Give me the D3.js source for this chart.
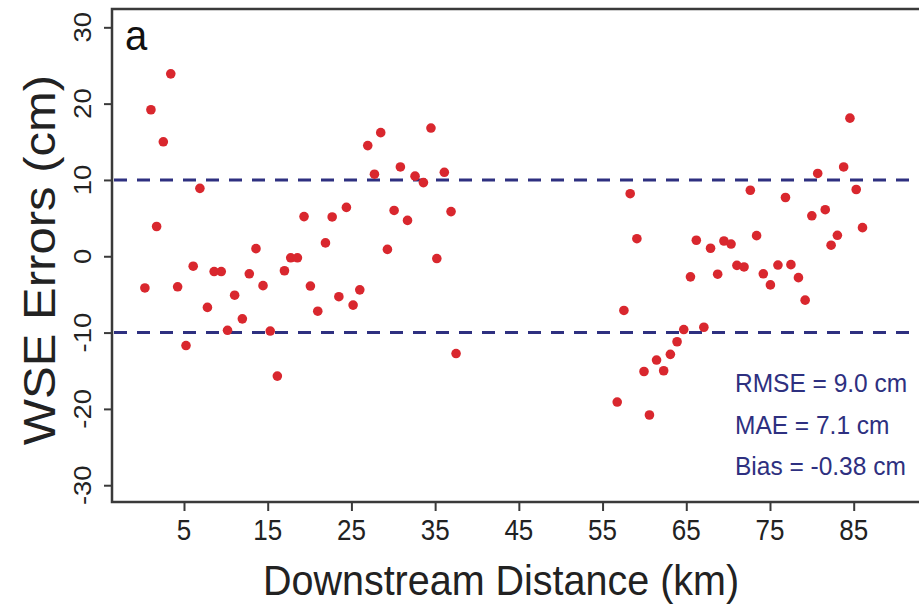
<!DOCTYPE html>
<html>
<head>
<meta charset="utf-8">
<script src="https://cdn.jsdelivr.net/npm/d3@7"></script>
<style>
  html, body { margin: 0; padding: 0; background: #ffffff; }
  svg { display: block; font-family: "Liberation Sans", Arial, sans-serif; }
</style>
</head>
<body>
<svg id="chart" width="919" height="607"></svg>
<script>
// ---- data ----
const distanceKm = [
  0.33, 1.05, 1.73, 2.53, 3.42, 4.24, 5.24, 6.1, 6.9, 7.8,
  8.6, 9.45, 10.2, 11.05, 11.97, 12.8, 13.6, 14.44, 15.3, 16.15,
  17.0, 17.75, 18.55, 19.34, 20.1, 20.98, 21.9, 22.7, 23.5, 24.4,
  25.2, 26.0, 26.95, 27.75, 28.5, 29.3, 30.1, 30.85, 31.7, 32.6,
  33.6, 34.5, 35.2, 36.1, 36.9, 37.5,
  56.75, 57.55, 58.3, 59.1, 59.95, 60.6, 61.45, 62.3, 63.1, 63.9,
  64.7, 65.5, 66.2, 67.1, 67.9, 68.75, 69.5, 70.35, 71.05, 71.9,
  72.65, 73.4, 74.2, 75.05, 75.95, 76.85, 77.5, 78.4, 79.2, 80.0,
  80.7, 81.6, 82.3, 83.05, 83.8, 84.55, 85.3, 86.05
];
const wseErrorCm = [
  -4.15, 19.2, 3.9, 15.0, 23.9, -4.0, -11.7, -1.3, 8.9, -6.7,
  -2.0, -2.0, -9.7, -5.1, -8.2, -2.3, 1.0, -3.85, -9.8, -15.7,
  -1.9, -0.2, -0.2, 5.2, -3.9, -7.2, 1.75, 5.15, -5.3, 6.4,
  -6.4, -4.4, 14.5, 10.75, 16.2, 0.9, 6.0, 11.7, 4.7, 10.5,
  9.65, 16.8, -0.3, 11.0, 5.85, -12.75,
  -19.1, -7.1, 8.2, 2.3, -15.1, -20.8, -13.6, -15.0, -12.85, -11.2,
  -9.6, -2.7, 2.1, -9.3, 1.05, -2.35, 2.0, 1.6, -1.2, -1.4,
  8.65, 2.7, -2.3, -3.75, -1.15, 7.7, -1.1, -2.8, -5.75, 5.3,
  10.85, 6.1, 1.45, 2.75, 11.7, 18.1, 8.75, 3.75
];
const xTicks = [5, 15, 25, 35, 45, 55, 65, 75, 85];
const yTicks = [30, 20, 10, 0, -10, -20, -30];
const thresholdLines = [10, -10];
const statLines = ["RMSE = 9.0 cm", "MAE = 7.1 cm", "Bias = -0.38 cm"];
const panelLabel = "a";
const xTitle = "Downstream Distance (km)";
const yTitle = "WSE Errors (cm)";

// ---- layout ----
const svg = d3.select("#chart");
const plotLeft = 112, plotTop = 9, plotBottom = 502, plotRight = 919;
const x = d3.scaleLinear().domain([-3.6, 92.8]).range([plotLeft, plotRight]);
const y = d3.scaleLinear().domain([-32.2, 32.4]).range([plotBottom, plotTop]);

const axisColor = "#3a3a3a";
const navy = "#2e3080";
const red = "#d9272e";

// frame (extends beyond right edge)
svg.append("rect")
  .attr("x", plotLeft).attr("y", plotTop)
  .attr("width", 900).attr("height", plotBottom - plotTop)
  .attr("fill", "none").attr("stroke", axisColor).attr("stroke-width", 2.5);

// axes tick marks via d3 axes
const xAxis = d3.axisBottom(x).tickValues(xTicks).tickSize(9).tickFormat("");
const gx = svg.append("g").attr("transform", `translate(0,${plotBottom})`).call(xAxis);
gx.select(".domain").remove();
gx.selectAll("line").attr("stroke", axisColor).attr("stroke-width", 2);

const yAxis = d3.axisLeft(y).tickValues(yTicks).tickSize(8).tickFormat("");
const gy = svg.append("g").attr("transform", `translate(${plotLeft},0)`).call(yAxis);
gy.select(".domain").remove();
gy.selectAll("line").attr("stroke", axisColor).attr("stroke-width", 2);

// x tick labels
svg.append("g").selectAll("text").data(xTicks).join("text")
  .attr("transform", d => `translate(${x(d)},540) scale(1,1.1)`)
  .attr("text-anchor", "middle")
  .attr("font-size", 26)
  .attr("fill", "#222")
  .text(d => d);

// y tick labels (rotated)
svg.append("g").selectAll("text").data(yTicks).join("text")
  .attr("transform", d => `translate(91,${y(d)}) rotate(-90) scale(1.12,1)`)
  .attr("text-anchor", "middle")
  .attr("font-size", 24.5)
  .attr("fill", "#222")
  .text(d => d);

// titles
svg.append("text")
  .attr("transform", `translate(${(262 + 740) / 2},595) scale(1,1.07)`)
  .attr("text-anchor", "middle")
  .attr("font-size", 39.5)
  .attr("fill", "#222")
  .text(xTitle);

svg.append("text")
  .attr("transform", `translate(55,260) rotate(-90) scale(1.09,1)`)
  .attr("text-anchor", "middle")
  .attr("font-size", 45)
  .attr("fill", "#222")
  .text(yTitle);

// dashed reference lines
svg.append("g").selectAll("line").data(thresholdLines).join("line")
  .attr("x1", plotLeft + 2).attr("x2", plotRight)
  .attr("y1", d => y(d)).attr("y2", d => y(d))
  .attr("stroke", navy).attr("stroke-width", 3)
  .attr("stroke-dasharray", "13,10");

// points
svg.append("g").selectAll("circle").data(distanceKm).join("circle")
  .attr("cx", d => x(d))
  .attr("cy", (d, i) => y(wseErrorCm[i]))
  .attr("r", 4.8)
  .attr("fill", red);

// panel label
svg.append("text")
  .attr("transform", "translate(125,50) scale(1,1.08)")
  .attr("font-size", 40)
  .attr("fill", "#111")
  .text(panelLabel);

// stats
svg.append("g").selectAll("text").data(statLines).join("text")
  .attr("transform", (d, i) => `translate(735,${392 + i * 41.5}) scale(1,1.07)`)
  .attr("font-size", 24.5)
  .attr("fill", navy)
  .text(d => d);
</script>
</body>
</html>
